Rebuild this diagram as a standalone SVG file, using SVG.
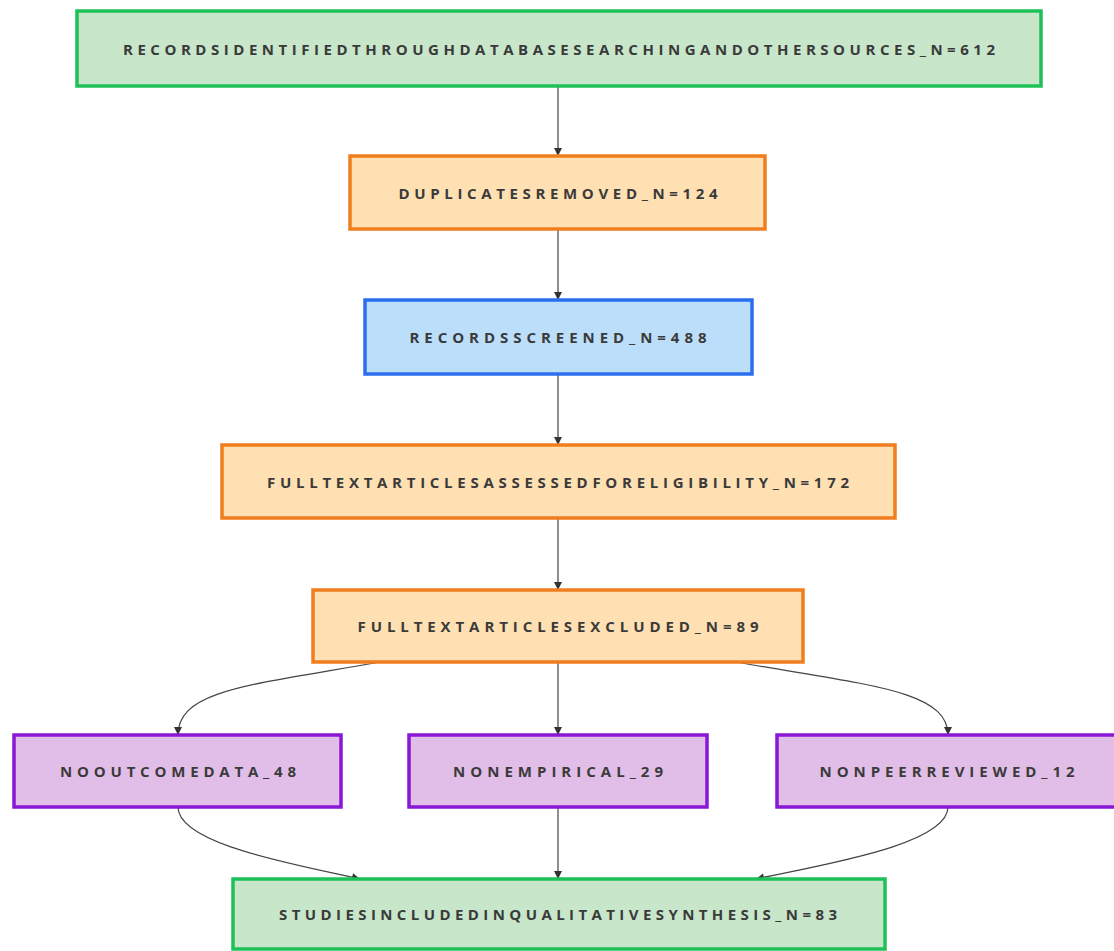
<svg xmlns="http://www.w3.org/2000/svg" width="1114" height="951" viewBox="0 0 1114 951">
<style>
.t{font-family:"Open Sans","DejaVu Sans",sans-serif;font-weight:700;font-size:15px;fill:#3a3a3a;text-anchor:middle;dominant-baseline:central}
.g{fill:#c8e6c9;stroke:#1ec157;stroke-width:3.5}
.o{fill:#ffe0b2;stroke:#f07d1e;stroke-width:3.5}
.b{fill:#bbdefb;stroke:#2b6ff0;stroke-width:3.5}
.p{fill:#e1bee7;stroke:#8a17d6;stroke-width:3.5}
.e{fill:none;stroke:#444;stroke-width:1.2;marker-end:url(#a)}
</style>
<defs>
<marker id="a" markerWidth="10" markerHeight="10" refX="9" refY="5" orient="auto" markerUnits="userSpaceOnUse">
<path d="M1,1 L9,5 L1,9 Z" fill="#333"/>
</marker>
</defs>
<rect width="1114" height="951" fill="#fff"/>
<g id="edges">
<path class="e" d="M558,86 L558,156"/>
<path class="e" d="M558,229 L558,300"/>
<path class="e" d="M558,374 L558,445"/>
<path class="e" d="M558,518 L558,590"/>
<path class="e" d="M558,662 L558,735"/>
<path class="e" d="M380,662 C250,685 178,690 178,735"/>
<path class="e" d="M736,662 C866,685 948,690 948,735"/>
<path class="e" d="M558,807 L558,879"/>
<path class="e" d="M178,807 C178,845 300,865 360,879"/>
<path class="e" d="M948,807 C948,845 820,865 756,879"/>
</g>
<g id="n1"><rect class="g" x="77" y="11" width="964" height="75"/><text class="t" x="559" y="49" textLength="872" lengthAdjust="spacing">RECORDSIDENTIFIEDTHROUGHDATABASESEARCHINGANDOTHERSOURCES_N=612</text></g>
<g id="n2"><rect class="o" x="350" y="156" width="415" height="73"/><text class="t" x="558" y="193" textLength="319" lengthAdjust="spacing">DUPLICATESREMOVED_N=124</text></g>
<g id="n3"><rect class="b" x="365" y="300" width="387" height="74"/><text class="t" x="558" y="337" textLength="297" lengthAdjust="spacing">RECORDSSCREENED_N=488</text></g>
<g id="n4"><rect class="o" x="222" y="445" width="673" height="73"/><text class="t" x="558" y="482" textLength="582" lengthAdjust="spacing">FULLTEXTARTICLESASSESSEDFORELIGIBILITY_N=172</text></g>
<g id="n5"><rect class="o" x="313" y="590" width="490" height="72"/><text class="t" x="558" y="626" textLength="401" lengthAdjust="spacing">FULLTEXTARTICLESEXCLUDED_N=89</text></g>
<g id="n6"><rect class="p" x="14" y="735" width="327" height="72"/><text class="t" x="178" y="771" textLength="236" lengthAdjust="spacing">NOOUTCOMEDATA_48</text></g>
<g id="n7"><rect class="p" x="409" y="735" width="298" height="72"/><text class="t" x="558" y="771" textLength="210" lengthAdjust="spacing">NONEMPIRICAL_29</text></g>
<g id="n8"><rect class="p" x="777" y="735" width="340" height="72"/><text class="t" x="947" y="771" textLength="255" lengthAdjust="spacing">NONPEERREVIEWED_12</text></g>
<g id="n9"><rect class="g" x="233" y="879" width="652" height="70"/><text class="t" x="558" y="914" textLength="558" lengthAdjust="spacing">STUDIESINCLUDEDINQUALITATIVESYNTHESIS_N=83</text></g>
</svg>
